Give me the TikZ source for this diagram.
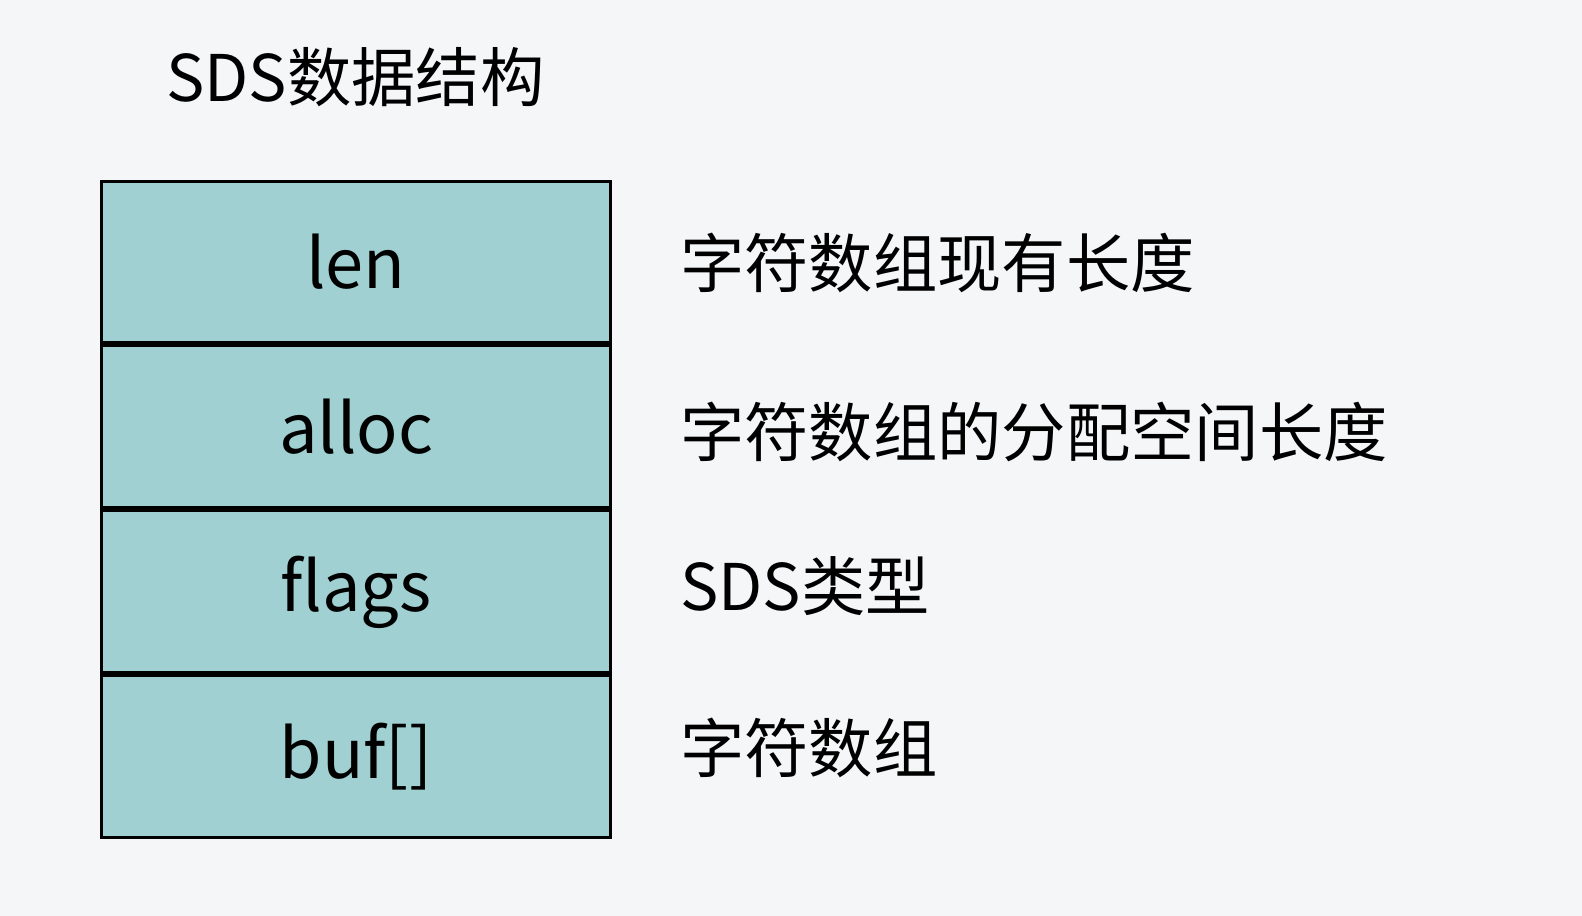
\documentclass[tikz,border=0pt]{standalone}
\usepackage{fontspec}
\setmainfont{Noto Sans CJK SC}
\usepackage{tikz}
\usetikzlibrary{positioning}
\usepackage{xcolor}

\definecolor{bgcol}{HTML}{F4F6F8}
\definecolor{cellcol}{HTML}{A0D0D2}

\tikzset{
    cell/.style={draw=black, fill=cellcol, line width=1.7pt, minimum width=10.2cm, minimum height=3.24cm, inner sep=0pt, font=\fontsize{39}{44}\selectfont},
    note/.style={anchor=west, inner sep=0pt, font=\fontsize{36.6}{41}\selectfont}
}

\begin{document}
\begin{tikzpicture}[x=0.02cm, y=-0.02cm]
        \fill[bgcol] (0,0) rectangle (1582,916);
        \useasboundingbox (0,0) rectangle (1582,916);

        \node[note] (title) at (166,77) {SDS数据结构};

        \node[cell] (len) at (356,262) {len};
        \node[cell, below=0pt of len] (alloc) {alloc};
        \node[cell, below=0pt of alloc] (flags) {flags};
        \node[cell, below=0pt of flags] (buf) {buf[]};

        % descriptions
        \node[note] (lendesc) at (680,263) {字符数组现有长度};
        \node[note] (allocdesc) at (680,432) {字符数组的分配空间长度};
        \node[note] (flagsdesc) at (680,586) {SDS类型};
        \node[note] (bufdesc) at (680,748) {字符数组};
    \end{tikzpicture}
\end{document}
